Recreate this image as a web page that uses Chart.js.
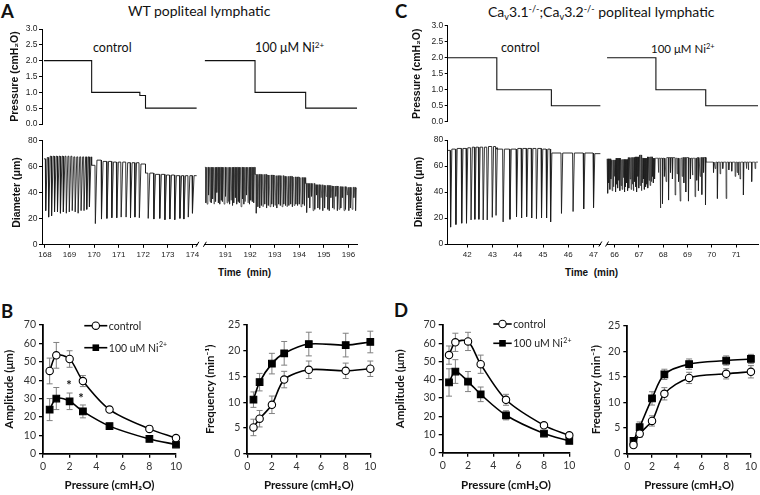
<!DOCTYPE html>
<html>
<head>
<meta charset="utf-8">
<title>Popliteal lymphatic contractions</title>
<script src="https://cdn.jsdelivr.net/npm/chart.js@4.4.1/dist/chart.umd.min.js"></script>
<style>
  html, body { margin: 0; padding: 0; background: #fff; }
  body { position: relative; width: 760px; height: 495px; overflow: hidden; font-family: Lato, sans-serif; color: #111; }
  canvas { position: absolute; }
  .lbl { position: absolute; white-space: nowrap; line-height: 1; }
  .lbl sup, .lbl sub { font-size: 0.65em; line-height: 0; position: relative; vertical-align: baseline; }
  .lbl sup { top: -0.5em; }
  .lbl sub { top: 0.3em; }
  .letter { font: bold 18.5px Lato, sans-serif; }
  .title { font-size: 14px; }
  .cond { font-size: 12.5px; }
  .axt { font: bold 10px 'Liberation Sans', Arial, sans-serif; }
</style>
</head>
<body>
<div class="lbl letter" style="left:1px;top:0px">A</div>
<div class="lbl letter" style="left:395px;top:0px">C</div>
<div class="lbl letter" style="left:1px;top:300px">B</div>
<div class="lbl letter" style="left:394px;top:299px">D</div>
<div class="lbl title" style="left:128px;top:4px">WT popliteal lymphatic</div>
<div class="lbl title" style="left:488px;top:5px">Ca<sub>v</sub>3.1<sup>-/-</sup>;Ca<sub>v</sub>3.2<sup>-/-</sup> popliteal lymphatic</div>
<div class="lbl cond" style="left:93px;top:42px">control</div>
<div class="lbl cond" style="left:255px;top:42px">100 μM Ni<sup>2+</sup></div>
<div class="lbl cond" style="left:501px;top:42px">control</div>
<div class="lbl cond" style="left:651px;top:43px;font-size:11.5px">100 μM Ni<sup>2+</sup></div>
<div class="lbl axt" style="left:218px;top:267px">Time&nbsp; (min)</div>
<div class="lbl axt" style="left:565px;top:267px">Time&nbsp; (min)</div>

<script>
// tick labels
const pressureTicks = [0, 0.5, 1, 1.5, 2, 2.5, 3];
const diameterTicks = [0, 20, 40, 60, 80];
const timeTicksWT = [168, 169, 170, 171, 172, 173, 174, 191, 192, 193, 194, 195, 196];
const timeTicksKO = [42, 43, 44, 45, 46, 47, 66, 67, 68, 69, 70, 71];
const pressureXTicks = [0, 2, 4, 6, 8, 10];
const amplitudeTicks = [0, 10, 20, 30, 40, 50, 60, 70];
const frequencyTicks = [0, 5, 10, 15, 20, 25];

// pressure steps [min, cmH2O]: level holds until the given time
const pressWTctrl = [[167.96, 2], [169.9, 1], [171.86, 0.9], [172.09, 0.5], [174.17, 0.5]];
const pressWTni = [[190.16, 2], [192.2, 1], [194.26, 0.5], [196.35, 0.5]];
const pressKOctrl = [[41.23, 2], [43.17, 1], [45.33, 0.5], [47.27, 0.5]];
const pressKOni = [[65.69, 2], [67.7, 1], [69.75, 0.5], [71.9, 0.5]];

// diameter traces: per pressure step, contractions as [min, nadir um, diastolic um after]
const diamWTctrl = [
  {t0: 167.96, t1: 169.9, base: 66, c: [[168.03, 26, 67], [168.15, 21, 68], [168.27, 22], [168.39, 25], [168.51, 25], [168.63, 24], [168.75, 25], [168.87, 24], [168.99, 25], [169.11, 26, 67.5], [169.23, 25], [169.35, 24], [169.47, 26], [169.59, 26], [169.7, 27], [169.81, 29]]},
  {t0: 169.9, t1: 172.09, base: 61, c: [[170.05, 16, 65], [170.3, 19.5, 64], [170.52, 20], [170.72, 20.5, 63.5], [170.92, 20.5], [171.1, 21], [171.3, 21, 63], [171.48, 20.5], [171.66, 21], [171.84, 20.5, 62]]},
  {t0: 172.09, t1: 174.17, base: 55, c: [[172.2, 20], [172.43, 19.5, 54], [172.67, 20], [172.88, 19, 53.5], [173.08, 19.5], [173.28, 19, 53], [173.49, 20], [173.65, 19.5], [173.83, 21], [174.0, 24]]}
];
const diamWTni = [
  {t0: 190.16, t1: 192.2, base: 59.5, c: [[190.2, 32], [190.25, 31], [190.31, 38], [190.37, 33], [190.42, 32], [190.48, 35], [190.54, 31], [190.6, 33], [190.65, 40], [190.71, 32], [190.77, 31], [190.83, 34], [190.88, 33], [190.94, 31], [191.0, 37], [191.06, 32], [191.11, 33], [191.17, 31], [191.23, 34], [191.29, 30], [191.34, 32], [191.4, 36], [191.46, 31], [191.52, 33], [191.57, 32], [191.63, 29], [191.69, 35], [191.75, 31], [191.8, 33], [191.86, 38], [191.92, 32], [191.98, 31], [192.03, 34], [192.09, 33], [192.15, 32]]},
  {t0: 192.2, t1: 194.26, base: 54, c: [[192.25, 24], [192.32, 29], [192.39, 28], [192.46, 30], [192.53, 29], [192.6, 31], [192.67, 28, 53.5], [192.74, 30], [192.81, 29], [192.88, 31], [192.95, 29], [193.02, 30, 53], [193.09, 28], [193.16, 31], [193.23, 30], [193.3, 29], [193.37, 31, 52.5], [193.44, 30], [193.51, 29], [193.58, 30], [193.65, 31], [193.72, 29, 52], [193.79, 30], [193.86, 31], [193.93, 30], [194.0, 31, 51.5], [194.07, 29], [194.14, 31], [194.21, 30]]},
  {t0: 194.26, t1: 196.35, base: 47, c: [[194.3, 24.5], [194.37, 36], [194.43, 28], [194.5, 37], [194.56, 26], [194.63, 27, 46], [194.7, 38], [194.76, 28], [194.83, 27], [194.89, 36], [194.96, 26, 45.5], [195.03, 28], [195.09, 37], [195.16, 27], [195.22, 26], [195.29, 36, 45], [195.36, 28], [195.42, 27], [195.49, 37], [195.55, 26], [195.62, 27, 44.5], [195.69, 28], [195.75, 36], [195.82, 26], [195.88, 27], [195.95, 38, 44], [196.02, 26], [196.08, 28], [196.15, 27], [196.22, 36], [196.29, 26, 43.5]]}
];
const diamKOctrl = [
  {t0: 41.23, t1: 43.17, base: 72, c: [[41.34, 13, 73], [41.55, 15, 73.5], [41.78, 16], [41.97, 16, 74], [42.15, 18.5, 74.5], [42.3, 19], [42.46, 19], [42.63, 18.5], [42.79, 18.5, 75], [42.99, 20.5], [43.14, 22, 74]]},
  {t0: 43.17, t1: 45.33, base: 73, c: [[43.42, 17], [43.69, 19], [43.95, 21, 73.5], [44.15, 20], [44.35, 21], [44.55, 20], [44.74, 19.5], [44.94, 20, 73], [45.14, 20], [45.3, 17, 70]]},
  {t0: 45.33, t1: 47.27, base: 70, c: [[45.73, 23.5], [46.19, 25], [46.61, 27], [47.0, 28, 69.5]]}
];
const diamKOni = [
  {t0: 65.69, t1: 67.7, base: 65.5, c: [[65.72, 39], [65.76, 47], [65.81, 42], [65.85, 50, 64.5], [65.9, 41], [65.95, 44], [65.99, 52], [66.04, 40, 66], [66.08, 46], [66.13, 43], [66.18, 49], [66.22, 41], [66.27, 45, 65], [66.31, 42], [66.36, 51], [66.41, 40], [66.45, 44], [66.5, 47], [66.54, 41, 66.5], [66.59, 43], [66.64, 50], [66.68, 42], [66.73, 46], [66.77, 41], [66.82, 48, 67], [66.87, 44], [66.91, 40], [66.96, 52], [67.0, 43, 68.5], [67.05, 45], [67.1, 41, 66], [67.14, 47], [67.19, 50], [67.23, 42], [67.28, 44], [67.33, 46, 67], [67.37, 43], [67.42, 49], [67.46, 45], [67.51, 48], [67.56, 52, 66], [67.6, 47], [67.65, 50]]},
  {t0: 67.7, t1: 69.75, base: 66, c: [[67.8, 55], [67.88, 27.7], [67.97, 31], [68.05, 52], [68.12, 48, 66.5], [68.22, 33.8], [68.3, 55], [68.38, 50], [68.49, 37.7, 66], [68.57, 54], [68.63, 48], [68.7, 33], [68.78, 52, 66.5], [68.85, 47], [68.93, 40], [69.04, 33, 66], [69.12, 50], [69.2, 53], [69.31, 36.4], [69.38, 49, 66.5], [69.45, 41], [69.52, 52], [69.59, 38], [69.66, 55], [69.74, 30]]},
  {t0: 69.75, t1: 71.9, base: 63, c: [[70.07, 55], [70.14, 58], [70.23, 35], [70.34, 54], [70.45, 58], [70.59, 35], [70.7, 57], [70.82, 56], [70.96, 52], [71.04, 55], [71.09, 53], [71.16, 50], [71.3, 37.7], [71.42, 58], [71.5, 57], [71.64, 48], [71.78, 58]]}
];

// summary panels
const pressureX = [0.5, 1, 2, 3, 5, 8, 10];
const ampWTctrl = [45, 53.5, 51.5, 39.5, 24, 13.5, 8.5];
const ampWTctrlErr = [7, 7, 4.5, 3, 1, 1, 1];
const ampWTni = [24, 30, 28.5, 23, 15, 8, 5];
const ampWTniErr = [6, 6, 4.5, 3.5, 1, 1, 1];
const freqWTctrl = [5.1, 6.8, 9.5, 14.4, 16.3, 16.1, 16.5];
const freqWTctrlErr = [1.6, 1.6, 1.7, 1.6, 1.7, 1.5, 1.5];
const freqWTni = [10.5, 13.9, 17.5, 19.5, 21.3, 21.1, 21.7];
const freqWTniErr = [1.5, 1.7, 2, 2.3, 2.3, 2.3, 2.1];
const ampKOctrl = [53.5, 60.5, 61, 48.5, 29, 15, 9.5];
const ampKOctrlErr = [5, 5, 5, 5, 3, 1, 1];
const ampKOni = [38.5, 44.5, 39, 32, 20.5, 10.5, 6.5];
const ampKOniErr = [7.5, 6.5, 5.5, 4, 2.5, 1, 1];
const freqKOctrl = [1.7, 3.9, 6.4, 11.7, 14.8, 15.6, 16];
const freqKOctrlErr = [0.5, 0.7, 1, 1.2, 1.1, 1, 1.2];
const freqKOni = [2.5, 5.2, 10.8, 15.5, 17.5, 18.2, 18.5];
const freqKOniErr = [0.5, 1, 1.3, 1, 1, 0.9, 0.9];
const starsWT = [[1.95, 38.4], [2.86, 31]];

const FONT_TOP = "'Liberation Sans', Arial, sans-serif";
const FONT_BOT = "Lato, 'Open Sans', sans-serif";

// broken time axis: second recording is shifted next to the first
const breakWT = {start1: 167.88, end1: 174.2, gap: 0.305, start2: 190.16, end2: 196.36, k: 1};
const breakKO = {start1: 41.225, end1: 47.27, gap: 0.265, start2: 65.69, end2: 71.9, k: 0.9625};

function mapper(b) {
  const mid = (b.end1 + b.start2) / 2;
  return t => t < mid ? t - b.start1 : (b.end1 - b.start1) + b.gap + (t - b.start2) * b.k;
}
const mapWT = mapper(breakWT);
const mapKO = mapper(breakKO);

function stepSet(steps, map) {
  return {data: steps.map(([t, p]) => ({x: map(t), y: p})), stepped: true,
    borderColor: '#111', borderWidth: 1.1, pointRadius: 0};
}

function traceSet(steps, shape, map, width) {
  const pts = [];
  steps.forEach(s => {
    let level = s.base;
    pts.push({x: map(s.t0), y: level});
    s.c.forEach(([t, low, top]) => {
      pts.push({x: map(t - shape[0]), y: level});
      pts.push({x: map(t), y: low});
      if (top !== undefined) level = top;
      pts.push({x: map(t + shape[1]), y: level});
    });
    pts.push({x: map(s.t1), y: level});
  });
  return {data: pts, borderColor: '#1c1c1c', borderWidth: width, pointRadius: 0, tension: 0};
}

const axisBreak = {
  id: 'axisBreak',
  afterDraw(chart, args, o) {
    if (!o.map) return;
    const xs = chart.scales.x, ctx = chart.ctx;
    const a = xs.getPixelForValue(o.map(o.brk.end1));
    const b = xs.getPixelForValue(o.map(o.brk.start2));
    const y = chart.chartArea.bottom;
    ctx.save();
    ctx.clearRect(a + 0.5, y - 2, b - a - 1, 4);
    ctx.strokeStyle = '#000';
    ctx.lineWidth = 1;
    [a, b].forEach(x => {
      ctx.beginPath();
      ctx.moveTo(x - 1.5, y + 2.5);
      ctx.lineTo(x + 1.5, y - 2.5);
      ctx.stroke();
    });
    ctx.restore();
  }
};

const errorBars = {
  id: 'errorBars',
  beforeDatasetsDraw(chart) {
    const {ctx, scales: {x, y}} = chart;
    ctx.save();
    ctx.strokeStyle = '#808080';
    ctx.lineWidth = 1;
    chart.data.datasets.forEach(ds => {
      if (!ds.errors) return;
      ds.data.forEach((p, i) => {
        const px = x.getPixelForValue(p.x);
        const hi = y.getPixelForValue(p.y + ds.errors[i]);
        const lo = y.getPixelForValue(p.y - ds.errors[i]);
        ctx.beginPath();
        ctx.moveTo(px, hi); ctx.lineTo(px, lo);
        ctx.moveTo(px - 3, hi); ctx.lineTo(px + 3, hi);
        ctx.moveTo(px - 3, lo); ctx.lineTo(px + 3, lo);
        ctx.stroke();
      });
    });
    ctx.restore();
  }
};

const lineLegend = {
  id: 'lineLegend',
  afterDraw(chart, args, o) {
    if (!o.rows) return;
    const {ctx, chartArea} = chart;
    ctx.save();
    chart.data.datasets.forEach((ds, i) => {
      const y = chartArea.top + o.rows[i];
      const x0 = chartArea.left + o.x, x1 = x0 + o.len, xm = (x0 + x1) / 2;
      ctx.strokeStyle = '#000';
      ctx.lineWidth = 1.6;
      ctx.beginPath(); ctx.moveTo(x0, y); ctx.lineTo(x1, y); ctx.stroke();
      ctx.lineWidth = 1.1;
      if (ds.pointStyle === 'rect') {
        ctx.fillStyle = '#000';
        ctx.fillRect(xm - 3.3, y - 3.3, 6.6, 6.6);
      } else {
        ctx.fillStyle = '#fff';
        ctx.beginPath(); ctx.arc(xm, y, 3.7, 0, Math.PI * 2); ctx.fill(); ctx.stroke();
      }
      ctx.fillStyle = '#222';
      ctx.textBaseline = 'middle';
      ctx.font = '10.5px ' + FONT_BOT;
      ctx.fillText(ds.label, x1 + 1.5, y + 0.5);
      if (ds.sup) {
        const w = ctx.measureText(ds.label).width;
        ctx.font = '7px ' + FONT_BOT;
        ctx.fillText(ds.sup, x1 + 1.5 + w + 0.5, y - 3);
      }
    });
    ctx.restore();
  }
};

const stars = {
  id: 'stars',
  afterDatasetsDraw(chart, args, o) {
    if (!o.items) return;
    const {ctx, scales: {x, y}} = chart;
    ctx.save();
    ctx.fillStyle = '#111';
    ctx.font = 'bold 13px ' + FONT_BOT;
    ctx.textAlign = 'center';
    ctx.textBaseline = 'middle';
    o.items.forEach(([sx, sy]) => ctx.fillText('*', x.getPixelForValue(sx), y.getPixelForValue(sy) + 2.6));
    ctx.restore();
  }
};

function addChart(rect, area, cfg) {
  const cv = document.createElement('canvas');
  cv.width = rect.w; cv.height = rect.h;
  Object.assign(cv.style, {left: rect.x + 'px', top: rect.y + 'px', width: rect.w + 'px', height: rect.h + 'px'});
  document.body.appendChild(cv);
  const m = {l: area.l - rect.x, t: area.t - rect.y, r: rect.x + rect.w - area.r, b: rect.y + rect.h - area.b};
  const o = cfg.options;
  const showX = o.scales.x.display !== false;
  o.responsive = false;
  o.animation = false;
  o.events = [];
  o.layout = {padding: {left: 0, top: m.t, right: m.r, bottom: showX ? 0 : m.b}};
  o.scales.y.afterFit = s => { s.width = m.l; };
  if (showX) o.scales.x.afterFit = s => { s.height = m.b; };
  o.plugins = Object.assign({legend: {display: false}, tooltip: {enabled: false}}, o.plugins || {});
  return new Chart(cv, cfg);
}

function topY(ticks, title, pad) {
  const max = ticks[ticks.length - 1];
  return {
    type: 'linear', min: 0, max,
    afterBuildTicks: s => { s.ticks = ticks.map(v => ({value: v})); },
    ticks: {font: {family: FONT_TOP, size: 8.5}, color: '#222', padding: 1.5,
      callback: v => max === 3 ? v.toFixed(1) : v},
    grid: {drawOnChartArea: false, tickLength: 3, color: '#000', lineWidth: 1},
    border: {color: '#000', width: 1},
    title: {display: true, text: title, color: '#111',
      font: {family: FONT_TOP, size: 10.5, weight: 'bold'}, padding: {top: pad, bottom: 0}}
  };
}

function timeX(ticks, map, brk) {
  return {
    type: 'linear', min: 0, max: map(brk.end2),
    afterBuildTicks: s => { s.ticks = ticks.map(t => ({value: map(t)})); },
    ticks: {font: {family: FONT_TOP, size: 8}, color: '#222', padding: 2.5, autoSkip: false, maxRotation: 0,
      callback: (v, i) => ticks[i]},
    grid: {drawOnChartArea: false, tickLength: 3.5, color: '#000', lineWidth: 1},
    border: {color: '#000', width: 1}
  };
}

// A: WT traces
addChart({x: 0, y: 21, w: 362, h: 111}, {l: 42, t: 29, r: 357.3, b: 124}, {
  type: 'line',
  data: {datasets: [stepSet(pressWTctrl, mapWT), stepSet(pressWTni, mapWT)]},
  options: {scales: {x: {type: 'linear', display: false, min: 0, max: mapWT(breakWT.end2)},
    y: topY(pressureTicks, 'Pressure (cmH₂O)', 8.4)}}
});
addChart({x: 0, y: 132, w: 362, h: 132}, {l: 42, t: 140.7, r: 357.3, b: 244.3}, {
  type: 'line',
  data: {datasets: [traceSet(diamWTctrl, [0.015, 0.065], mapWT, 0.9), traceSet(diamWTni, [0.01, 0.035], mapWT, 0.6)]},
  plugins: [axisBreak],
  options: {scales: {x: timeX(timeTicksWT, mapWT, breakWT), y: topY(diameterTicks, 'Diameter (μm)', 10.7)},
    plugins: {axisBreak: {map: mapWT, brk: breakWT}}}
});

// C: Cav3.1/3.2 knockout traces
addChart({x: 400, y: 18, w: 360, h: 112}, {l: 447.7, t: 25.7, r: 758, b: 121.7}, {
  type: 'line',
  data: {datasets: [stepSet(pressKOctrl, mapKO), stepSet(pressKOni, mapKO)]},
  options: {scales: {x: {type: 'linear', display: false, min: 0, max: mapKO(breakKO.end2)},
    y: topY(pressureTicks, 'Pressure (cmH₂O)', 10.7)}}
});
addChart({x: 400, y: 131, w: 360, h: 133}, {l: 447.7, t: 140, r: 758, b: 244}, {
  type: 'line',
  data: {datasets: [traceSet(diamKOctrl, [0.02, 0.05], mapKO, 0.9), traceSet(diamKOni, [0.01, 0.025], mapKO, 0.7)]},
  plugins: [axisBreak],
  options: {scales: {x: timeX(timeTicksKO, mapKO, breakKO), y: topY(diameterTicks, 'Diameter (μm)', 12.7)},
    plugins: {axisBreak: {map: mapKO, brk: breakKO}}}
});

// B, D: summary curves
function bottomAxis(ticks, title, pad) {
  return {
    type: 'linear', min: ticks[0], max: ticks[ticks.length - 1],
    afterBuildTicks: s => { s.ticks = ticks.map(v => ({value: v})); },
    ticks: {font: {family: FONT_BOT, size: 10.5}, color: '#333', padding: 3},
    grid: {drawOnChartArea: false, tickLength: 4, color: '#000', lineWidth: 1.3},
    border: {color: '#000', width: 1.8},
    title: {display: true, text: title, color: '#111',
      font: {family: FONT_BOT, size: 11.5, weight: 'bold'}, padding: pad}
  };
}

function summarySets(ctrl, ctrlErr, ni, niErr) {
  const common = {borderColor: '#000', borderWidth: 1.6, tension: 0.3, pointBorderColor: '#000', pointBorderWidth: 1.1, clip: 10};
  return [
    Object.assign({label: 'control', data: pressureX.map((x, i) => ({x, y: ctrl[i]})), errors: ctrlErr,
      pointStyle: 'circle', pointRadius: 3.7, pointBackgroundColor: '#fff'}, common),
    Object.assign({label: '100 uM Ni', sup: '2+', data: pressureX.map((x, i) => ({x, y: ni[i]})), errors: niErr,
      pointStyle: 'rect', pointRadius: 4.7, pointBackgroundColor: '#000'}, common)
  ];
}

function summaryChart(rect, area, sets, yTicks, yTitle, yPad, extra) {
  return addChart(rect, area, {
    type: 'line',
    data: {datasets: sets},
    plugins: [errorBars, lineLegend, stars],
    options: {
      scales: {
        x: bottomAxis(pressureXTicks, 'Pressure (cmH₂O)', {top: 0, bottom: 2.4}),
        y: bottomAxis(yTicks, yTitle, {top: yPad, bottom: 0})
      },
      plugins: extra
    }
  });
}

summaryChart({x: 0, y: 313, w: 186, h: 182}, {l: 43, t: 325, r: 176, b: 453.7},
  summarySets(ampWTctrl, ampWTctrlErr, ampWTni, ampWTniErr), amplitudeTicks, 'Amplitude (μm)', 2.6,
  {lineLegend: {x: 41.3, len: 23, rows: [0.7, 22.7]}, stars: {items: starsWT}});
summaryChart({x: 200, y: 313, w: 180, h: 182}, {l: 247.3, t: 325, r: 370.3, b: 453.7},
  summarySets(freqWTctrl, freqWTctrlErr, freqWTni, freqWTniErr), frequencyTicks, 'Frequency (min⁻¹)', 3.1, {});
summaryChart({x: 391, y: 313, w: 188, h: 182}, {l: 442.7, t: 325, r: 569.3, b: 452.7},
  summarySets(ampKOctrl, ampKOctrlErr, ampKOni, ampKOniErr), amplitudeTicks, 'Amplitude (μm)', 2.8,
  {lineLegend: {x: 50.6, len: 18.4, rows: [-1, 18.3]}});
summaryChart({x: 587, y: 313, w: 173, h: 182}, {l: 627.3, t: 325.7, r: 753, b: 453.7},
  summarySets(freqKOctrl, freqKOctrlErr, freqKOni, freqKOniErr), frequencyTicks, 'Frequency (min⁻¹)', 2.8, {});
</script>
</body>
</html>
